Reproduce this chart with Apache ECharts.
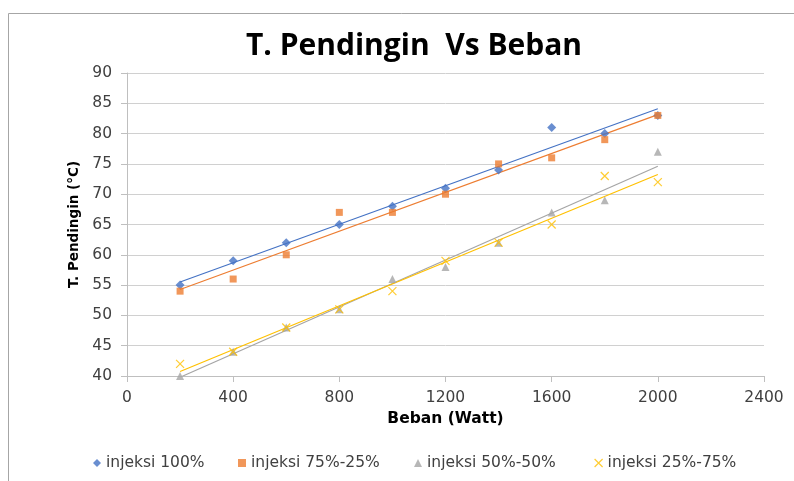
<!DOCTYPE html>
<html>
<head>
<meta charset="utf-8">
<script src="https://cdn.jsdelivr.net/npm/echarts@6/dist/echarts.min.js"></script>
<style>
html,body{margin:0;padding:0;background:#fff;}
#main{width:794px;height:481px;}
</style>
</head>
<body>
<div id="main"></div>
<script>
// data
var beban = [200, 400, 600, 800, 1000, 1200, 1400, 1600, 1800, 2000];
var inj100 = [55, 59, 62, 65, 68, 71, 74, 81, 80, 83];
var inj75 = [54, 56, 60, 67, 67, 70, 75, 76, 79, 83];
var inj50 = [40, 44, 48, 51, 56, 58, 62, 67, 69, 77];
var inj25 = [42, 44, 48, 51, 54, 59, 62, 65, 73, 72];
var names = ['injeksi 100%', 'injeksi 75%-25%', 'injeksi 50%-50%', 'injeksi 25%-75%'];
var colors = ['#4472C4', '#ED7D31', '#A5A5A5', '#FFC000'];

var myChart = echarts.init(document.getElementById('main'));
var font = 'DejaVu Sans';
var cross = 'path://M0,0L10,10M10,0L0,10';

function pairs(xs, ys) {
    var out = [];
    for (var i = 0; i < xs.length; i++) out.push([xs[i], ys[i]]);
    return out;
}
// garis trend linear (least squares), seperti trendline excel
function trend(xs, ys) {
    var n = xs.length, mx = 0, my = 0, sxy = 0, sxx = 0;
    for (var i = 0; i < n; i++) { mx += xs[i] / n; my += ys[i] / n; }
    for (var j = 0; j < n; j++) {
        sxy += (xs[j] - mx) * (ys[j] - my);
        sxx += (xs[j] - mx) * (xs[j] - mx);
    }
    var b = sxy / sxx, a = my - b * mx;
    var x0 = xs[0], x1 = xs[n - 1];
    return [[x0, a + b * x0], [x1, a + b * x1]];
}
function markStyle(k) {
    if (k == 3) return {color: 'rgba(0,0,0,0)', borderColor: colors[k], borderWidth: 1.2};
    return {color: colors[k], borderWidth: 0};
}

var allY = [inj100, inj75, inj50, inj25];
var symbols = ['diamond', 'rect', 'triangle', cross];
var sizes = [9, 7, 8, 8];
var series = [];
for (var k = 0; k < 4; k++) {
    series.push({
        name: names[k],
        type: 'scatter',
        data: pairs(beban, allY[k]),
        symbol: symbols[k],
        symbolSize: sizes[k],
        itemStyle: markStyle(k),
        z: 3
    });
    series.push({
        type: 'line',
        data: trend(beban, allY[k]),
        symbol: 'none',
        lineStyle: {color: colors[k], width: 1.2},
        z: 2,
        silent: true
    });
}

var legendX = [88, 233, 409, 589];
var legends = [];
for (var m = 0; m < 4; m++) {
    legends.push({
        data: [{name: names[m], icon: symbols[m], itemStyle: markStyle(m)}],
        left: legendX[m],
        top: 450,
        itemWidth: 8,
        itemHeight: 8,
        textStyle: {fontFamily: font, fontSize: 15.5, color: '#404040'}
    });
}

myChart.setOption({
    animation: false,
    title: {
        text: 'T. Pendingin  Vs Beban',
        left: 409,
        textAlign: 'center',
        top: 26,
        textStyle: {fontFamily: 'Open Sans', fontWeight: 'bold', fontSize: 30, color: '#000'}
    },
    graphic: [{
        type: 'rect',
        shape: {x: 8.5, y: 13.5, width: 900, height: 600},
        style: {fill: 'none', stroke: '#A6A6A6', lineWidth: 1}
    }],
    legend: legends,
    grid: {left: 127, right: 30, top: 73, bottom: 105},
    xAxis: {
        type: 'value',
        min: 0, max: 2400, interval: 400,
        name: 'Beban (Watt)',
        nameLocation: 'middle',
        nameGap: 34,
        nameTextStyle: {fontFamily: font, fontWeight: 'bold', fontSize: 15.5, color: '#000'},
        axisLine: {lineStyle: {color: '#BFBFBF'}},
        axisTick: {show: true, length: 6, lineStyle: {color: '#BFBFBF'}},
        axisLabel: {fontFamily: font, fontSize: 15.5, color: '#404040', margin: 14,
            formatter: function (v) { return String(v); }},
        splitLine: {show: false}
    },
    yAxis: {
        type: 'value',
        min: 40, max: 90, interval: 5,
        name: 'T. Pendingin (°C)',
        nameLocation: 'middle',
        nameRotate: 90,
        nameGap: 46,
        nameTextStyle: {fontFamily: font, fontWeight: 'bold', fontSize: 13.5, color: '#000'},
        axisLine: {show: true, lineStyle: {color: '#BFBFBF'}},
        axisTick: {show: true, length: 6, lineStyle: {color: '#BFBFBF'}},
        axisLabel: {fontFamily: font, fontSize: 15.5, color: '#404040', margin: 15},
        splitLine: {lineStyle: {color: '#D0D0D0'}}
    },
    series: series
});
</script>
</body>
</html>
